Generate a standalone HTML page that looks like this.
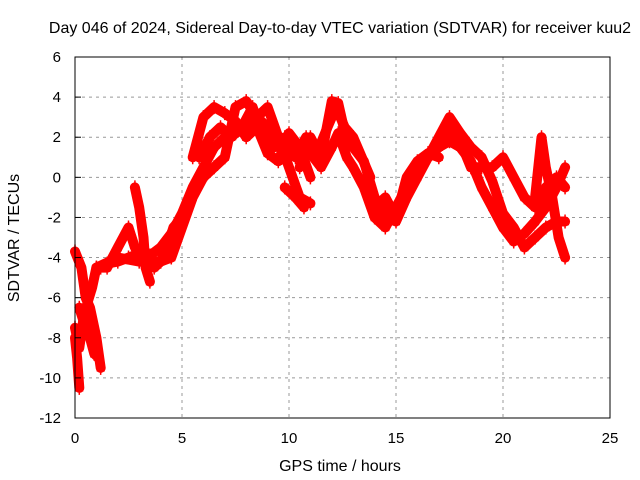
<!DOCTYPE html>
<html><head><meta charset="utf-8"><style>
body{margin:0;background:#fff}
svg{display:block;font-family:"Liberation Sans",sans-serif}
</style></head><body>
<svg id="chart" width="640" height="480" viewBox="0 0 640 480">
<rect width="640" height="480" fill="#fff"/>
<text x="340" y="33" font-size="16" text-anchor="middle">Day 046 of 2024, Sidereal Day-to-day VTEC variation (SDTVAR) for receiver kuu2</text>
<g id="grid"></g>
<g id="series"></g>
<rect x="75" y="57" width="535" height="361" fill="none" stroke="#000" stroke-width="1"/>
<g id="ticks"></g>
<text x="340" y="471" font-size="16" text-anchor="middle">GPS time / hours</text>
<text x="19" y="238" font-size="16" text-anchor="middle" transform="rotate(-90 19 238)">SDTVAR / TECUs</text>
</svg>
<script>
const xTicks=[0,5,10,15,20,25];
const yTicks=[6,4,2,0,-2,-4,-6,-8,-10,-12];
const seriesA=[[0,-7.5],[0.2,-8.5],[0.4,-7],[0.6,-6.2],[0.8,-5.5],[1,-4.5],[1.5,-4.3],[2,-4.2],[2.5,-4],[3,-3.8],[3.5,-3.9],[4,-3.5],[4.5,-2.8],[5,-1.8],[5.5,-0.5],[6,0.5],[6.5,1.5],[7,2],[7.5,2.2],[8,2.5],[8.5,3],[9,2.5],[9.5,1.5],[10,1.8],[10.5,1.5],[11,1.2],[11.5,0.5],[12,1.5],[12.3,2.2],[12.7,1],[13,0.5],[13.5,-0.5],[14,-2],[14.5,-2.5],[15,-1.5],[15.5,-0.5],[16,0.5],[16.5,1.2],[17,1.5],[17.5,1.8],[18,1.5],[18.5,0.8],[19,-0.5],[19.5,-1.5],[20,-2.5],[20.5,-3.2],[21,-2.8],[21.5,-2.2],[22,-1.5],[22.5,-0.5],[22.9,0.5]];
const seriesB=[[1,-4.5],[2,-4],[3,-4.2],[4,-4.2],[4.5,-4],[5,-2.5],[5.5,-1],[6,0],[6.5,0.5],[7,1],[7.5,3.5],[8,3.8],[8.5,3],[9,3.5],[9.5,2],[10,0.5],[10.5,-1],[11,-1.3]];
const seriesC=[[5.5,1],[6,3],[6.5,3.5],[7,3.2],[7.5,2.8],[8,2],[8.5,2.5],[9,1.2],[9.5,0.8],[10,2.2],[10.5,1.5],[11,0]];
const seriesD=[[10.5,0.5],[11,2],[11.5,1],[12,3.8],[12.3,3.7],[12.7,1.8],[13,1.5],[13.5,0.8],[14,-1],[14.5,-2],[15,-2.2],[15.5,-1],[16,0],[16.5,1],[17,2],[17.5,3],[18,2.2],[18.5,1.5],[19,1],[19.5,-0.2],[20,-1.8],[20.5,-2.5],[21,-3.5],[21.5,-3],[22,-2.5],[22.5,-2.2],[22.9,-2.2]];
const seriesE=[[16.5,1],[17,1.5],[17.5,2.5],[18,1.8],[18.5,0.5],[19,0.5],[19.5,0.5],[20,1],[20.5,0],[21,-1],[21.5,-1.5],[22,-0.5],[22.5,0],[22.9,-0.5]];
const seriesF=[[21.5,-1],[21.8,2],[22,0.5],[22.3,-1],[22.6,-3],[22.9,-4]];
const seriesG=[[2.8,-0.5],[3,-1.5],[3.2,-3],[3.3,-4.5],[3.5,-5.2]];
const seriesH=[[0,-3.7],[0.3,-4.5],[0.5,-6],[0.7,-6.5],[1,-8],[1.2,-9.5]];
const seriesI=[[0,-8],[0.1,-9],[0.2,-10.5]];
const seriesJ=[[1.2,-4.5],[1.5,-4.5],[2,-3.5],[2.5,-2.5],[2.8,-3.5]];
const seriesK=[[0.2,-6.5],[0.5,-7.5],[0.7,-8],[0.9,-8.8],[1.1,-9]];
const seriesL=[[5.8,1],[6.3,2],[6.8,2.5],[7.3,2],[7.8,2.5],[8.3,3.5],[8.8,2],[9.3,1.5],[9.8,2],[10.3,1],[10.8,2],[11.3,1.2],[11.8,2.5],[12.2,3.5],[12.6,2.5],[13,2],[13.4,1],[13.8,0]];
const seriesM=[[9.8,-0.5],[10.3,-1],[10.7,-1.5]];
const seriesN=[[14,-1.5],[14.5,-1],[15,-2],[15.5,0],[16,0.8],[16.5,1.2],[17,1]];
const seriesO=[[3.7,-4.5],[4,-4.2],[4.3,-3.5],[4.6,-2.5],[5,-2]];
const allSeries=[seriesA,seriesB,seriesC,seriesD,seriesE,seriesF,seriesG,seriesH,seriesI,seriesJ,seriesK,seriesL,seriesM,seriesN,seriesO];
const NS="http://www.w3.org/2000/svg";
const xS=h=>75+h*535/25;
const yS=v=>57+(6-v)*361/18;
const grid=document.getElementById('grid'),ticks=document.getElementById('ticks'),sg=document.getElementById('series');
function mk(t,a,p){const e=document.createElementNS(NS,t);for(const k in a)e.setAttribute(k,a[k]);p.appendChild(e);return e;}
xTicks.forEach(t=>{const x=xS(t);
 if(t>0&&t<25){const l=mk('line',{x1:x,x2:x,y1:57,y2:418,stroke:'#999','stroke-dasharray':'3,4'},grid);
 
 }
 const tx=mk('text',{x:x,y:443,'font-size':15,'text-anchor':'middle'},ticks);tx.textContent=t;
 
 
});
yTicks.forEach(t=>{const y=yS(t);
 if(t<6&&t>-12){const l=mk('line',{x1:75,x2:610,y1:y,y2:y,stroke:'#999','stroke-dasharray':'3,4'},grid);
 
 }
 mk('line',{x1:75,x2:81,y1:y,y2:y,stroke:'#000'},ticks);
 const tx=mk('text',{x:61,y:y+5,'font-size':15,'text-anchor':'end'},ticks);tx.textContent=t;
 
 
});
allSeries.forEach((s,i)=>{
 const d=s.map((p,j)=>(j?'L':'M')+xS(p[0]).toFixed(1)+','+yS(p[1]).toFixed(1)).join('');
 const pl=mk('path',{d:d,fill:'none',stroke:'#f00','stroke-width':10,'stroke-linejoin':'round','stroke-linecap':'round'},sg);
 
 
 s.forEach(p=>{const x=xS(p[0]),y=yS(p[1]);
  const m=mk('path',{d:`M${x-4},${y-2}h8M${x-4},${y+3}h8M${x},${y-7}v14`,stroke:'#f00','stroke-width':1.5},sg);
  
  
 });
});
</script>
</body></html>
